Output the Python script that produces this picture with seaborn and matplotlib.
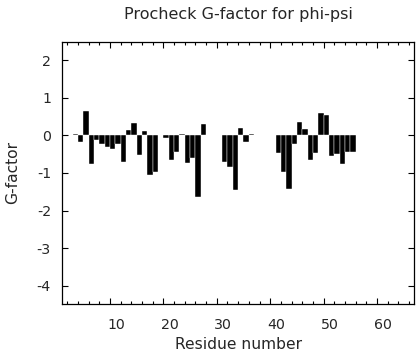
import numpy as np
import pandas as pd
import seaborn as sns
import matplotlib.pyplot as plt
from matplotlib.ticker import MultipleLocator
from matplotlib.transforms import ScaledTranslation

## data (missing residues left out)
residues = [3, 4, 5, 6, 7, 8, 9, 10, 11, 12, 13, 14, 15, 16, 17, 18,
            20, 21, 22, 23, 24, 25, 26, 27,
            31, 32, 33, 34, 35, 36,
            41, 42, 43, 44, 45, 46, 47, 48, 49, 50, 51, 52, 53, 54, 55]
gfactor = [0.05, -0.18, 0.65, -0.77, -0.11, -0.24, -0.30, -0.35, -0.24, -0.70, 0.14, 0.32, -0.51, 0.11, -1.04, -0.98,
           -0.06, -0.66, -0.43, 0.05, -0.73, -0.59, -1.63, 0.30,
           -0.70, -0.85, -1.45, 0.21, -0.18, 0.03,
           -0.46, -0.97, -1.43, -0.23, 0.37, 0.16, -0.66, -0.47, 0.61, 0.55, -0.55, -0.50, -0.76, -0.45, -0.45]
x_ticks = [10, 20, 30, 40, 50, 60]
y_ticks = [2, 1, 0, -1, -2, -3, -4]

sns.set_style("ticks")
plt.rcParams['font.family'] = ['DejaVu Sans']

df = pd.DataFrame({"res": residues, "g": gfactor})
# bars span [n, n+1] in the original plot
df["pos"] = df["res"] + 0.5

fig = plt.figure(figsize=(4.16, 3.6), dpi=100)
ax = fig.add_axes([62 / 416, 1 - 304.3 / 360, 352.3 / 416, 262.6 / 360])

sns.barplot(data=df, x="pos", y="g", native_scale=True, width=1, color="black",
            saturation=1, edgecolor="white", linewidth=0.3, errorbar=None, ax=ax)

ax.set_xlim(1, 67)
ax.set_ylim(-4.5, 2.5)
ax.set_xticks(x_ticks)
ax.set_xticklabels([str(t) for t in x_ticks])
ax.xaxis.set_minor_locator(MultipleLocator(2))
ax.set_yticks(y_ticks)
ax.set_yticklabels([str(t) for t in y_ticks])

ax.tick_params(which="both", direction="in", top=True, right=True, width=0.8, color="black")
ax.tick_params(which="major", length=4.5, labelsize=10.2)
ax.tick_params(which="minor", length=2.2)
ax.tick_params(axis="x", pad=10)
ax.tick_params(axis="y", pad=8)
for sp in ax.spines.values():
    sp.set_visible(True)
    sp.set_linewidth(0.9)
    sp.set_color("black")

# labels in the reference sit a bit right of their ticks
off = ScaledTranslation(6 / 100, 0, fig.dpi_scale_trans)
for lbl in ax.get_xticklabels():
    lbl.set_transform(lbl.get_transform() + off)

ax.set_xlabel("Residue number", fontsize=11.2)
ax.set_ylabel("G-factor", fontsize=11.2)
ax.xaxis.set_label_coords(0.5, -0.125)
ax.yaxis.set_label_coords(-0.12, 0.5)
ax.set_title("Procheck G-factor for phi-psi", fontsize=11.5, pad=16)

plt.savefig("out.png", dpi=100)
